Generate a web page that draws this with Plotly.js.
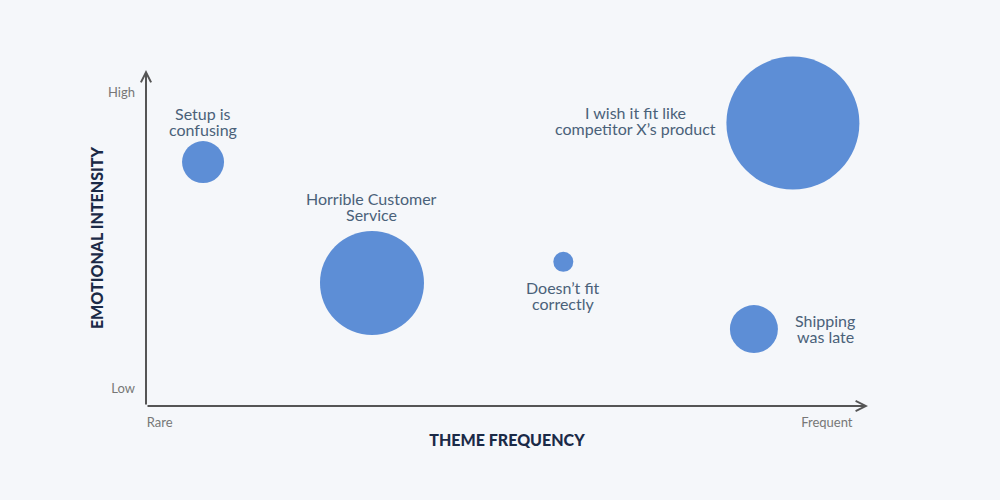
<!DOCTYPE html>
<html>
<head>
<meta charset="utf-8">
<script src="https://cdn.plot.ly/plotly-3.0.1.min.js"></script>
<style>html,body{margin:0;padding:0;background:#f5f7fa;}#chart{width:1000px;height:500px;}</style>
</head>
<body>
<div id="chart"></div>
<script>
// Data
var themes = [["Setup is", "confusing"], ["Horrible Customer", "Service"], ["Doesn\u2019t fit", "correctly"], ["I wish it fit like", "competitor X\u2019s product"], ["Shipping", "was late"]];
var frequency = [7.9, 31.3, 57.8, 89.6, 84.2];
var intensity = [72.6, 36.6, 42.9, 84.2, 22.9];
var mentions = [42, 104, 20, 133, 48];
var xTickVals = [1.9, 94.3];
var xTickText = ["Rare", "Frequent"];
var yTickVals = [93.2, 5.1];
var yTickText = ["High", "Low"];

// Label placement (style)
var labelPos = ["top", "top", "bottom", "left", "right"];
var labelGap = [4, 9, 8, 10, 17];
var labelDy = [0, 0, 0, 3, 1];
var LABEL_SIZE = 16, LINE_H = 16;
var labelFont = "Lato, sans-serif";

var ctx = document.createElement("canvas").getContext("2d");
ctx.font = LABEL_SIZE + "px Lato";
function textW(s) { return ctx.measureText(s).width; }

var annotations = [];
themes.forEach(function (lines, i) {
  var r = mentions[i] / 2, n = lines.length, g = labelGap[i];
  var blockW = Math.max.apply(null, lines.map(textW));
  lines.forEach(function (line, j) {
    var a = {
      x: frequency[i], y: intensity[i], xref: "x", yref: "y",
      text: line, showarrow: false, xanchor: "center", yanchor: "middle", borderpad: 0,
      font: {family: labelFont, size: LABEL_SIZE, color: "#4a6179"}
    };
    var fromCenter = (j - (n - 1) / 2) * LINE_H; // downward offset within block
    if (labelPos[i] === "top") { a.yshift = r + g + LINE_H / 2 + (n - 1 - j) * LINE_H; }
    else if (labelPos[i] === "bottom") { a.yshift = -(r + g + LINE_H / 2 + j * LINE_H); }
    else if (labelPos[i] === "left") { a.yshift = -fromCenter; a.xshift = -(r + g + blockW / 2); }
    else { a.yshift = -fromCenter; a.xshift = r + g + blockW / 2; }
    a.yshift += labelDy[i];
    annotations.push(a);
  });
});
// axis arrows
annotations.push({x: 100, y: 0, ax: 0, ay: 0, xref: "x", yref: "y", axref: "x", ayref: "y",
  text: "", showarrow: true, arrowhead: 5, arrowsize: 1, arrowwidth: 2, arrowcolor: "#555555"});
annotations.push({x: 0, y: 100, ax: 0, ay: 0, xref: "x", yref: "y", axref: "x", ayref: "y",
  text: "", showarrow: true, arrowhead: 5, arrowsize: 1, arrowwidth: 2, arrowcolor: "#555555"});

var trace = {
  x: frequency, y: intensity, mode: "markers", type: "scatter",
  marker: {size: mentions, sizemode: "diameter", sizeref: 1, color: "#5d8ed6", opacity: 1, line: {width: 0}},
  cliponaxis: false, hoverinfo: "skip"
};

var layout = {
  width: 1000, height: 500,
  paper_bgcolor: "#f5f7fa", plot_bgcolor: "#f5f7fa",
  margin: {l: 146, r: 132, t: 70, b: 94},
  showlegend: false,
  xaxis: {
    range: [0, 100], showgrid: false, zeroline: false, showline: false,
    tickvals: xTickVals, ticktext: xTickText, ticks: "", ticklabelstandoff: 7,
    tickfont: {family: "Lato, sans-serif", size: 13, color: "#777777"},
    title: {text: "THEME FREQUENCY", standoff: 5,
      font: {family: "Lato, sans-serif", size: 16, color: "#1b2a47", weight: 900}}
  },
  yaxis: {
    range: [0, 100], showgrid: false, zeroline: false, showline: false,
    tickvals: yTickVals, ticktext: yTickText, ticks: "", ticklabelstandoff: 10,
    tickfont: {family: "Lato, sans-serif", size: 13, color: "#777777"},
    title: {text: "EMOTIONAL INTENSITY", standoff: 0,
      font: {family: "Lato, sans-serif", size: 16, color: "#1b2a47", weight: 900}}
  },
  annotations: annotations
};

Plotly.newPlot("chart", [trace], layout, {staticPlot: true, displayModeBar: false});
</script>
</body>
</html>
